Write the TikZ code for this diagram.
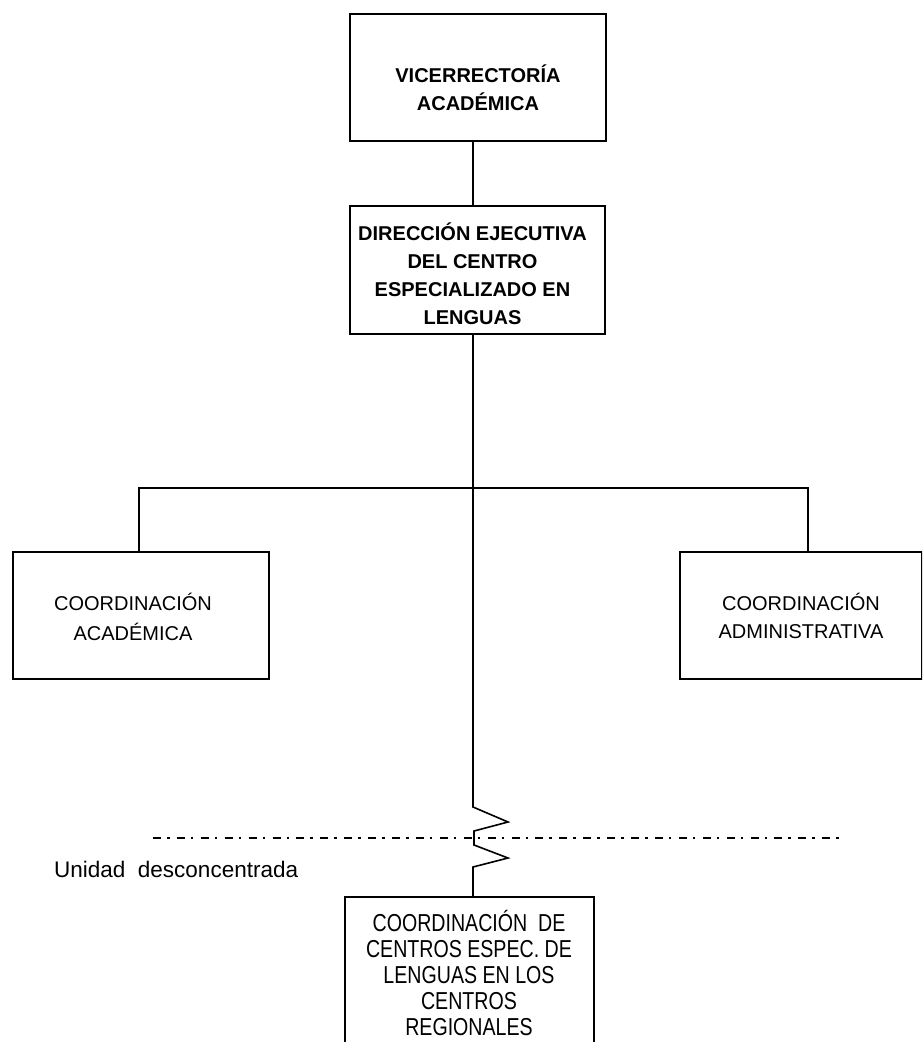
\documentclass[tikz,border=0pt]{standalone}
\usepackage{fontspec}
\setmainfont{Liberation Sans}
\newfontfamily\narrowfont[FakeStretch=0.8]{Liberation Sans}
\begin{document}
\begin{tikzpicture}[x=1pt,y=-1pt,
  box/.style={draw=black, line width=1.8pt, inner sep=0pt, anchor=north west},
  conn/.style={line width=1.6pt, line join=miter},
  lbl/.style={inner sep=0pt, anchor=base},
  boldtxt/.style={font=\fontsize{20}{28.3}\selectfont\bfseries},
  regtxt/.style={font=\fontsize{20}{28.3}\selectfont},
  dashdot/.style={line width=2pt, dash pattern=on 8pt off 6pt on 2.5pt off 7.4pt}]
\path[use as bounding box] (0,0) rectangle (922,1042);
\clip (0,0) rectangle (922,1042);

% boxes
\node[box, minimum width=256pt, minimum height=127pt] (vic) at (349,13) {};
\node[box, minimum width=255pt, minimum height=128pt] (dir) at (349,205) {};
\node[box, minimum width=256pt, minimum height=127pt] (acad) at (12,551) {};
\node[box, minimum width=242pt, minimum height=127pt] (adm) at (679,551) {};
\node[box, draw=none, minimum width=247pt, minimum height=160pt] (reg) at (345,897) {};
\draw[line width=1.8pt] (reg.south west) -- (reg.north west) -- (reg.north east) -- (reg.south east);

% texts
\node[lbl, boldtxt] (vicT) at (478,82) {\begin{tabular}[t]{@{}c@{}}VICERRECTORÍA\\ACADÉMICA\end{tabular}};
\node[lbl, boldtxt] (dirT) at (472.5,240) {\begin{tabular}[t]{@{}c@{}}DIRECCIÓN EJECUTIVA\\DEL CENTRO\\ESPECIALIZADO EN\\LENGUAS\end{tabular}};
\node[lbl, font=\fontsize{20}{30}\selectfont] (acadT) at (133,610) {\begin{tabular}[t]{@{}c@{}}COORDINACIÓN\\ACADÉMICA\end{tabular}};
\node[lbl, regtxt] (admT) at (801,610) {\begin{tabular}[t]{@{}c@{}}COORDINACIÓN\\ADMINISTRATIVA\end{tabular}};
\node[lbl, font=\narrowfont\fontsize{24.5}{26}\selectfont] (regT) at (469,931) {\begin{tabular}[t]{@{}c@{}}COORDINACIÓN\ \ DE\\CENTROS ESPEC. DE\\LENGUAS EN LOS\\CENTROS\\REGIONALES\end{tabular}};
\node[inner sep=0pt, anchor=base west, font=\fontsize{22.5}{26}\selectfont] (unid) at (54,877) {Unidad\ \ desconcentrada};

% connectors
\coordinate (spine) at (473,0);
\coordinate (hl) at (139,488);
\coordinate (hr) at (808,488);
\coordinate (z1) at (473,807);
\coordinate (z2) at (508,822);
\coordinate (z3) at (474,831);
\coordinate (z4) at (474,845);
\coordinate (z5) at (508,858);
\coordinate (z6) at (473,867);
\coordinate (dl) at (153,838);
\coordinate (dr) at (839,838);

\draw[conn] (vic.south -| spine) -- (dir.north -| spine);
\draw[conn] (dir.south -| spine) -- (z1) -- (z2) -- (z3) -- (z4) -- (z5) -- (z6) -- (reg.north -| z6);
\draw[conn] (acad.north -| hl) -- (hl) -- (hr) -- (adm.north -| hr);
\draw[dashdot] (dl) -- (dr);
\end{tikzpicture}
\end{document}
